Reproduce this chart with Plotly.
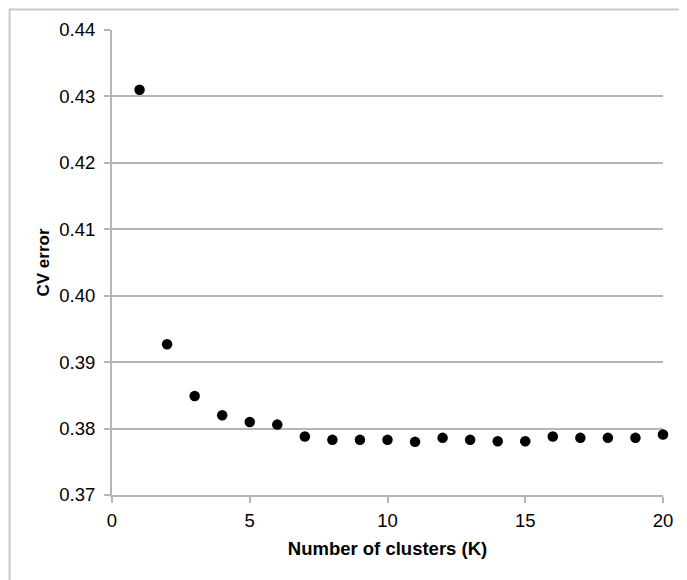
import plotly.graph_objects as go

k_values = list(range(1, 21))
cv_error = [0.4310, 0.3927, 0.3849, 0.3820, 0.3810, 0.3806, 0.3788, 0.3783,
            0.3783, 0.3783, 0.3780, 0.3786, 0.3783, 0.3781, 0.3781, 0.3788,
            0.3786, 0.3786, 0.3786, 0.3791]
y_ticks = [0.37, 0.38, 0.39, 0.40, 0.41, 0.42, 0.43, 0.44]
x_ticks = [0, 5, 10, 15, 20]

W, H = 687, 580
# page body adds 8px offset; compensate
L, T = 103.5, 21.5
R = W - (663 - 8)
B = H - (495.5 - 8)
pw, ph = W - L - R, H - T - B

fig = go.Figure(go.Scatter(
    x=k_values, y=cv_error, mode="markers",
    marker=dict(color="black", size=10.5),
    showlegend=False, cliponaxis=False,
))

grid = "#b5b5b5"
font = "Liberation Sans, Arial, sans-serif"
fig.update_layout(
    width=W, height=H,
    margin=dict(l=L, r=R, t=T, b=B, pad=0),
    paper_bgcolor="white", plot_bgcolor="white",
    font=dict(family=font, color="black", size=18.5),
    xaxis=dict(range=[0, 20], tickvals=x_ticks, showgrid=False,
               showline=True, linecolor=grid, linewidth=2,
               ticks="outside", ticklen=6, tickcolor=grid, tickwidth=2,
               zeroline=False, tickfont=dict(size=18.5), ticklabelstandoff=2,
               title=dict(text="<b>Number of clusters (K)</b>", font=dict(size=18.5), standoff=12)),
    yaxis=dict(range=[0.37, 0.44], tickvals=y_ticks, tickformat=".2f",
               showgrid=True, gridcolor=grid, gridwidth=2,
               showline=True, linecolor=grid, linewidth=2,
               ticks="outside", ticklen=6, tickcolor=grid, tickwidth=2,
               zeroline=False, tickfont=dict(size=18.5), ticklabelstandoff=5,
               title=dict(text="<b>CV error</b>", font=dict(size=17), standoff=5)),
    shapes=[dict(type="rect", xref="paper", yref="paper",
                 x0=(1 - L) / pw, x1=1.2, y0=-0.4, y1=1 + (T - 1) / ph,
                 line=dict(color="#c8c8c8", width=2), layer="below")],
)

fig.write_html("out.html")
